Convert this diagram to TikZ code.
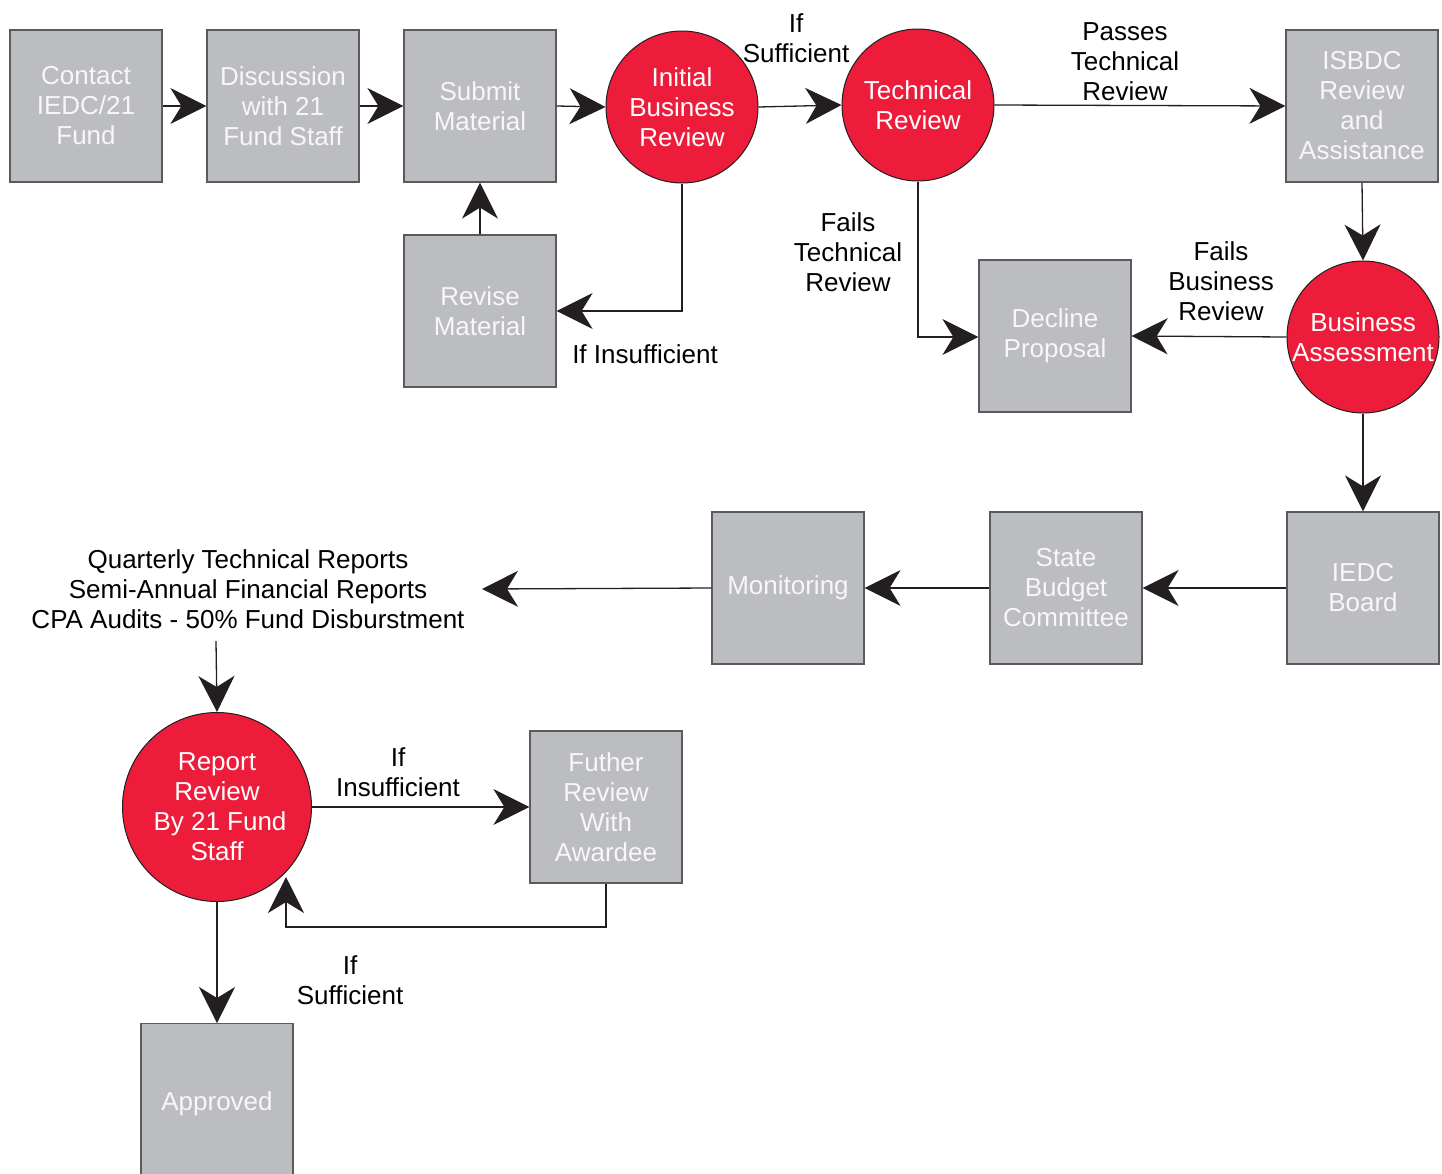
\documentclass[tikz,border=0pt]{standalone}
\usepackage{fontspec}
\setmainfont{Liberation Sans}
\usetikzlibrary{arrows.meta}
\definecolor{boxgray}{HTML}{BCBDC0}
\definecolor{boxedge}{HTML}{5A5B5E}
\definecolor{redc}{HTML}{ED1C3A}
\definecolor{arr}{HTML}{231F20}
\definecolor{lighttxt}{HTML}{F7F7F7}
\begin{document}
\begin{tikzpicture}[x=1pt,y=-1pt,
  every node/.style={font=\fontsize{26}{30}\selectfont, align=center, inner sep=0pt},
  gbox/.style={draw=boxedge, line width=1.2pt, fill=boxgray, minimum width=152pt, minimum height=152pt, text=lighttxt},
  rcirc/.style={draw=arr, line width=1pt, fill=redc, circle, minimum size=152pt, text=white},
  lbl/.style={text=black},
  conn/.style={draw=arr, line width=1.3pt, -{Stealth[length=36pt,width=36pt,inset=11pt]}}]
\useasboundingbox (0,0) rectangle (1442,1173);
% nodes
\node[gbox] (contact) at (86,106) {Contact\\IEDC/21\\Fund};
\node[gbox] (disc) at (283,106) {Discussion\\with 21\\Fund Staff};
\node[gbox] (submit) at (480,106) {Submit\\Material};
\node[gbox] (revise) at (480,311) {Revise\\Material};
\node[rcirc] (initial) at (682,107) {Initial\\Business\\Review};
\node[rcirc] (tech) at (918,105) {Technical\\Review};
\node[gbox] (isbdc) at (1362,106) {ISBDC\\Review\\and\\Assistance};
\node[rcirc] (bizass) at (1363,337) {Business\\Assessment};
\node[gbox] (decline) at (1055,336) {Decline\\Proposal};
\node[gbox] (iedc) at (1363,588) {IEDC\\Board};
\node[gbox] (state) at (1066,588) {State\\Budget\\Committee};
\node[gbox] (monit) at (788,588) {Monitoring};
\node[lbl, inner sep=2pt] (reports) at (248,589) {Quarterly Technical Reports\\Semi-Annual Financial Reports\\CPA Audits - 50\% Fund Disburstment};
\node[rcirc, minimum size=189pt] (report) at (217,807) {Report\\Review\\\hspace*{6pt}By 21 Fund\\Staff};
\node[gbox] (futher) at (606,807) {Futher\\Review\\With\\Awardee};
\node[gbox, minimum height=160pt, anchor=north] (approved) at (217,1023) {Approved};
% labels
\node[lbl] (l1) at (796,38) {If\\Sufficient};
\node[lbl] (l2) at (1125,62) {Passes\\Technical\\Review};
\node[lbl] (l3) at (848,252) {Fails\\Technical\\Review};
\node[lbl] (l4) at (1221,281) {Fails\\Business\\Review};
\node[lbl] (l5) at (645,354) {If Insufficient};
\node[lbl] (l6) at (398,772) {If\\Insufficient};
\node[lbl] (l7) at (350,980) {If\\Sufficient};
% coordinates
\coordinate (c1) at (682,311);
\coordinate (c2) at (918,337);
\coordinate (c3) at (606,927);
\coordinate (c4) at (286,927);
\coordinate (c5) at (286,877);
\coordinate (c6) at (216,641);
\coordinate (c7) at (482,589);
% connectors
\draw[conn] (contact.east) -- (disc.west);
\draw[conn] (disc.east) -- (submit.west);
\draw[conn] (submit.east) -- (initial.west);
\draw[conn] (initial.east) -- (tech.west);
\draw[conn] (tech.east) -- (isbdc.west);
\draw[conn] (isbdc.south) -- (bizass.north);
\draw[conn] (bizass.west) -- (decline.east);
\draw[conn] (tech.south) -- (c2) -- (decline.west |- c2);
\draw[conn] (initial.south) -- (c1) -- (revise.east |- c1);
\draw[conn] (revise.north) -- (submit.south);
\draw[conn] (bizass.south) -- (iedc.north);
\draw[conn] (iedc.west) -- (state.east);
\draw[conn] (state.west) -- (monit.east);
\draw[conn] (monit.west) -- (c7);
\draw[conn] (c6) -- (report.north);
\draw[conn] (report.east) -- (futher.west);
\draw[conn] (futher.south) -- (c3) -- (c4) -- (c5);
\draw[conn] (report.south) -- (approved.north);
\end{tikzpicture}
\end{document}
